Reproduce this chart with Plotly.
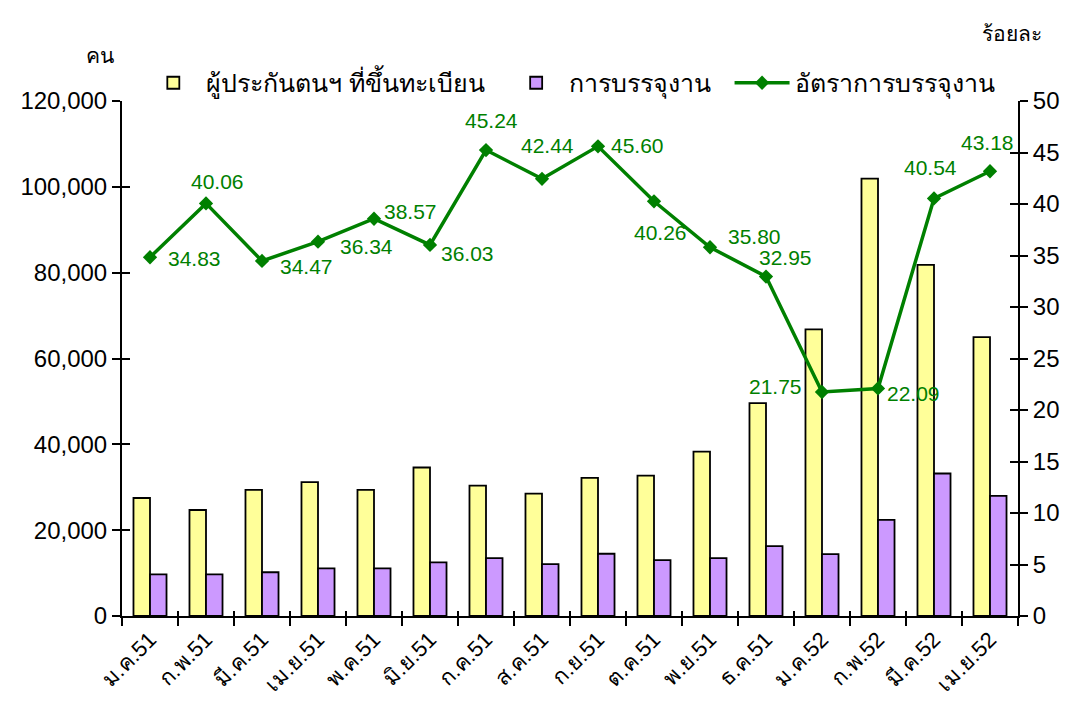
import plotly.graph_objects as go

months = ["ม.ค.51", "ก.พ.51", "มี.ค.51", "เม.ย.51", "พ.ค.51", "มิ.ย.51", "ก.ค.51", "ส.ค.51",
          "ก.ย.51", "ต.ค.51", "พ.ย.51", "ธ.ค.51", "ม.ค.52", "ก.พ.52", "มี.ค.52", "เม.ย.52"]
registered = [27500, 24700, 29400, 31200, 29400, 34600, 30400, 28500,
              32200, 32700, 38300, 49600, 66800, 101900, 81800, 65000]
placed = [9700, 9700, 10200, 11100, 11100, 12500, 13500, 12100,
          14500, 13000, 13500, 16300, 14400, 22400, 33200, 28000]
rate = [34.83, 40.06, 34.47, 36.34, 38.57, 36.03, 45.24, 42.44,
        45.60, 40.26, 35.80, 32.95, 21.75, 22.09, 40.54, 43.18]
series_names = ["ผู้ประกันตนฯ ที่ขึ้นทะเบียน", "การบรรจุงาน", "อัตราการบรรจุงาน"]

# label offsets in pixels (style only)
label_dx = [44, 11, 44, 48, 36, 37, 5, 5, 39, 6, 44, 19, -47, 35, -4, -3]
label_dy = [-1, 22, -6, -5, 7, -9, 30, 33, 1, -31, 11, 19, 5, -5, 31, 29]

FONT = "Liberation Sans, Arial, sans-serif"
GREEN = "#008000"
PAD = "\u00a0\u00a0"

fig = go.Figure()
fig.add_trace(go.Bar(x=months, y=registered, name=series_names[0] + PAD,
                     marker=dict(color="#FFFF99", line=dict(color="black", width=1.8))))
fig.add_trace(go.Bar(x=months, y=placed, name=series_names[1] + PAD,
                     marker=dict(color="#CC99FF", line=dict(color="black", width=1.8))))
fig.add_trace(go.Scatter(x=months, y=rate, name=series_names[2], yaxis="y2",
                         mode="lines+markers",
                         line=dict(color=GREEN, width=3.5),
                         marker=dict(symbol="diamond", size=11, color=GREEN)))

annotations = []
for m, v, dx, dy in zip(months, rate, label_dx, label_dy):
    annotations.append(dict(x=m, y=v, xref="x", yref="y2", text=f"{v:.2f}",
                            showarrow=False, xshift=dx, yshift=dy,
                            font=dict(family=FONT, size=21, color=GREEN)))
annotations.append(dict(x=-0.0246, y=1.089, xref="paper", yref="paper", text="คน",
                        showarrow=False, xanchor="center", yanchor="middle",
                        font=dict(size=21, color="black")))
annotations.append(dict(x=0.993, y=1.132, xref="paper", yref="paper", text="ร้อยละ",
                        showarrow=False, xanchor="center", yanchor="middle",
                        font=dict(size=21, color="black")))

axis_common = dict(showgrid=False, zeroline=False, automargin=False)
xr = [-0.5, len(months) - 0.5]

fig.update_layout(
    width=1054, height=696,
    margin=dict(l=114, r=44, t=93, b=88),
    paper_bgcolor="white", plot_bgcolor="white",
    barmode="group", bargap=0.41, bargroupgap=0,
    font=dict(family=FONT, size=24, color="black"),
    showlegend=True,
    legend=dict(orientation="h", x=0.021, y=1.035, xanchor="left", yanchor="middle",
                font=dict(size=25), traceorder="normal", itemwidth=55,
                bgcolor="rgba(0,0,0,0)"),
    xaxis=dict(type="category", categoryorder="array", categoryarray=months, range=xr,
               showline=True, linecolor="black", linewidth=2,
               ticks="outside", ticklen=8, tickwidth=1.5, tickcolor="black",
               tickson="boundaries", tickangle=-45,
               tickfont=dict(size=22), **axis_common),
    xaxis2=dict(type="category", categoryorder="array", categoryarray=months, range=xr,
                overlaying="x", side="bottom", showline=False,
                ticks="inside", ticklen=5, tickwidth=1.5, tickcolor="black",
                tickson="boundaries", showticklabels=False, **axis_common),
    yaxis=dict(range=[0, 120000], dtick=20000, tickformat=",", showline=True,
               linecolor="black", linewidth=2, ticks="outside", ticklen=8,
               tickwidth=1.5, tickcolor="black", tickfont=dict(size=24), **axis_common),
    yaxis2=dict(range=[0, 50], dtick=5, overlaying="y", side="right", showline=True,
                linecolor="black", linewidth=2, ticks="outside", ticklen=8,
                tickwidth=1.5, tickcolor="black", tickfont=dict(size=24), **axis_common),
    yaxis3=dict(range=[0, 120000], dtick=20000, overlaying="y", side="left",
                ticks="inside", ticklen=8, tickwidth=1.5, tickcolor="black",
                showticklabels=False, showline=False, **axis_common),
    yaxis4=dict(range=[0, 50], dtick=5, overlaying="y", side="right",
                ticks="inside", ticklen=8, tickwidth=1.5, tickcolor="black",
                showticklabels=False, showline=False, **axis_common),
    annotations=annotations,
)
# invisible helper traces to display inner tick marks
fig.add_trace(go.Scatter(x=months, y=[0] * len(months), xaxis="x2", yaxis="y3",
                         mode="markers", marker=dict(opacity=0),
                         showlegend=False, hoverinfo="skip"))
fig.add_trace(go.Scatter(x=[months[0]], y=[0], yaxis="y4", mode="markers",
                         marker=dict(opacity=0), showlegend=False, hoverinfo="skip"))

fig.write_html("out.html")
